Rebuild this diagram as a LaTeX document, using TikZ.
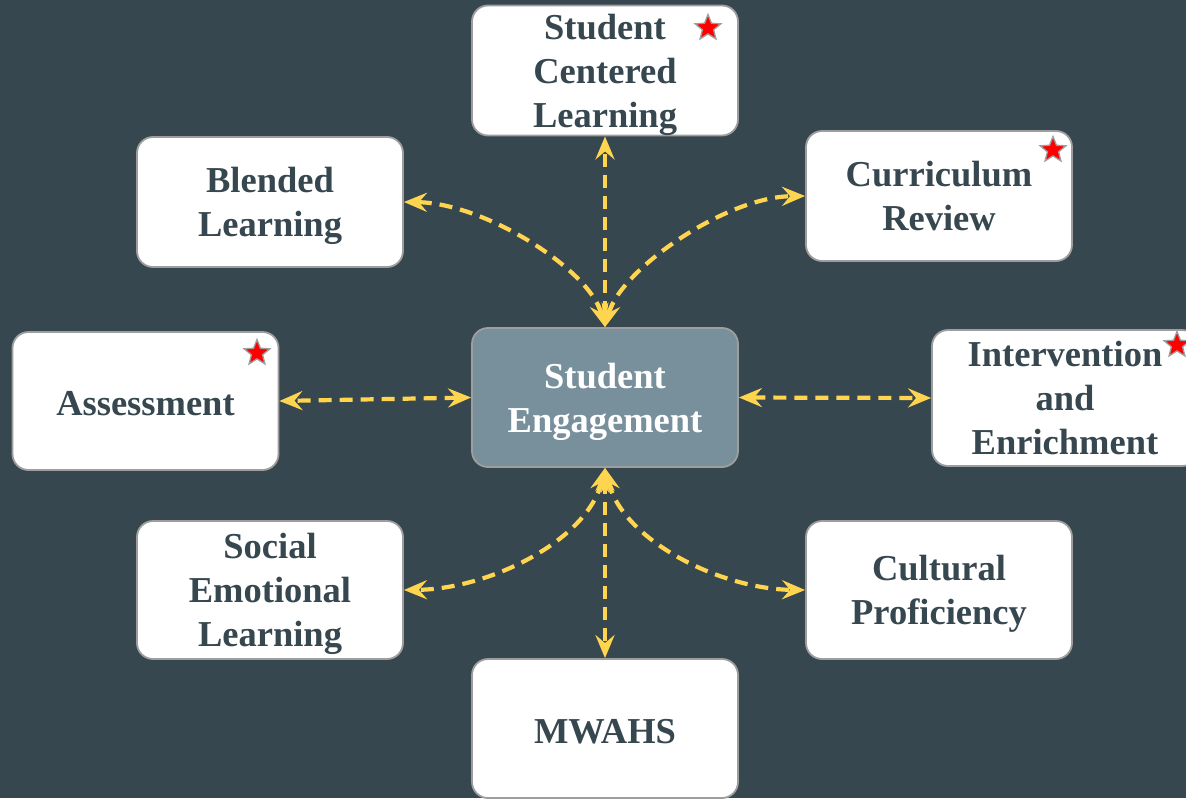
\documentclass[tikz,border=0pt]{standalone}
\usepackage{fontspec}
\setmainfont{Liberation Serif}
\usetikzlibrary{arrows.meta,shapes.geometric}
\definecolor{bgc}{HTML}{37474F}
\definecolor{midc}{HTML}{78909C}
\definecolor{edgec}{HTML}{9E9E9E}
\definecolor{arrc}{HTML}{FFD54F}
\tikzset{
  box/.style={draw=edgec, line width=1.8pt, fill=white, rounded corners=16pt,
    minimum width=266pt, minimum height=130pt, align=center, text=bgc,
    font=\fontsize{36.5}{44}\selectfont\bfseries, inner sep=0pt, text depth=0pt,
    execute at begin node={\rule{0pt}{29.5pt}}},
  hub/.style={box, fill=midc, text=white, minimum height=139pt},
  link/.style={draw=arrc, line width=4.2pt, dash pattern=on 13pt off 8pt,
    {Stealth[length=23pt,width=19pt,inset=8pt]}-{Stealth[length=23pt,width=19pt,inset=8pt]}},
  mark star/.style={star, star points=5, star point ratio=2.3, fill=red, draw=edgec,
    line width=1.3pt, minimum size=27pt, inner sep=0pt}
}
\begin{document}
\begin{tikzpicture}[x=1pt,y=-1pt]
\useasboundingbox (0,0) rectangle (1186,798);
\clip (0,0) rectangle (1186,798);
\fill[bgc] (0,0) rectangle (1186,798);

\node[hub] (eng) at (605,397.5) {Student\\Engagement};
\node[box] (scl) at (605,70.5) {Student\\Centered\\Learning};
\node[box] (bl) at (270,202) {Blended\\Learning};
\node[box] (cr) at (939,196) {Curriculum\\Review};
\node[box, minimum height=138pt] (as) at (145.5,401) {Assessment};
\node[box, minimum height=136pt] (ie) at (1065,398) {Intervention\\and\\Enrichment};
\node[box, minimum height=138pt] (sel) at (270,590) {Social\\Emotional\\Learning};
\node[box, minimum height=138pt] (cp) at (939,590) {Cultural\\Proficiency};
\node[box, minimum height=139pt] (mw) at (605,728.5) {MWAHS};

\node[mark star] (s1) at (708,28) {};
\node[mark star] (s2) at (1053,150) {};
\node[mark star] (s3) at (257,353) {};
\node[mark star] (s4) at (1177,345) {};

\draw[link] (eng.north) -- (scl.south);
\draw[link] (eng.north) .. controls (590,270) and (485,203) .. (bl.east);
\draw[link] (eng.north) .. controls (620,270) and (725,197) .. (cr.west);
\draw[link] (eng.west) -- (as.east);
\draw[link] (eng.east) -- (ie.west);
\draw[link] (eng.south) -- (mw.north);
\draw[link] (eng.south) .. controls (588,540) and (490,589) .. (sel.east);
\draw[link] (eng.south) .. controls (622,540) and (720,589) .. (cp.west);
\end{tikzpicture}
\end{document}
